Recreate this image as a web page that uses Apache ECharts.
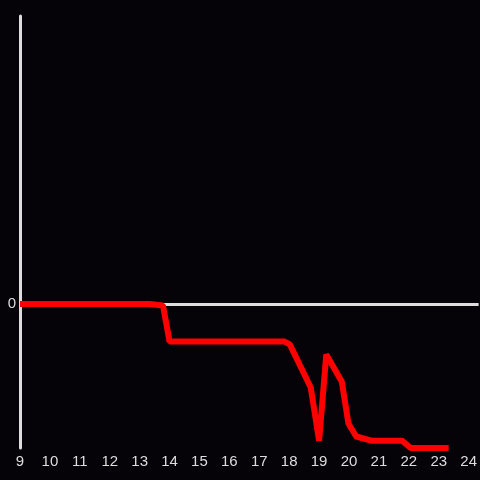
<!DOCTYPE html>
<html>
<head>
<meta charset="utf-8">
<script src="https://cdn.jsdelivr.net/npm/echarts@6/dist/echarts.min.js"></script>
<style>
  html, body { margin: 0; padding: 0; background: #050307; }
  #chart { width: 480px; height: 480px; }
</style>
</head>
<body>
<div id="chart"></div>
<script>
// hours of the day (x) and readings (y)
var hours = [9, 13.33, 13.78, 14.0, 17.83, 18.02, 18.72, 19.0, 19.24, 19.76, 19.98, 20.24, 20.78, 21.78, 22.06, 23.33];
var values = [0, 0, -0.01, -0.26, -0.26, -0.28, -0.58, -0.95, -0.35, -0.54, -0.83, -0.92, -0.95, -0.95, -1.0, -1.0];
var xTicks = [9, 10, 11, 12, 13, 14, 15, 16, 17, 18, 19, 20, 21, 22, 23, 24];

var chart = echarts.init(document.getElementById('chart'));

var points = hours.map(function (h, i) { return [h, values[i]]; });

var option = {
  backgroundColor: '#050307',
  animation: false,
  textStyle: { fontFamily: 'Liberation Sans' },
  grid: { left: 20, right: 0, top: 16, bottom: 32 },
  xAxis: {
    type: 'value',
    min: 9,
    max: 24.333,
    interval: 1,
    axisLine: { show: false },
    axisTick: { show: false },
    splitLine: { show: false },
    axisLabel: {
      color: '#dddddd',
      fontFamily: 'Liberation Sans',
      fontSize: 15,
      margin: 6,
      showMaxLabel: false,
      formatter: function (v) { return xTicks.indexOf(v) >= 0 ? String(v) : ''; }
    }
  },
  yAxis: {
    type: 'value',
    min: -1,
    max: 2,
    interval: 1,
    axisLine: { show: true, onZero: false, lineStyle: { color: '#dddddd', width: 3 } },
    axisTick: { show: false },
    splitLine: { show: false },
    axisLabel: {
      color: '#dddddd',
      fontFamily: 'Liberation Sans',
      fontSize: 15,
      margin: 4,
      formatter: function (v) { return v === 0 ? '0' : ''; }
    }
  },
  series: [
    {
      // zero line
      type: 'line',
      data: [],
      z: 1,
      markLine: {
        silent: true,
        z: 1,
        symbol: 'none',
        label: { show: false },
        lineStyle: { color: '#dddddd', width: 3, type: 'solid' },
        data: [{ yAxis: 0 }]
      }
    },
    {
      type: 'line',
      data: points,
      showSymbol: false,
      symbol: 'none',
      lineStyle: { color: '#ff0000', width: 6 },
      z: 5
    }
  ]
};

chart.setOption(option);
</script>
</body>
</html>
